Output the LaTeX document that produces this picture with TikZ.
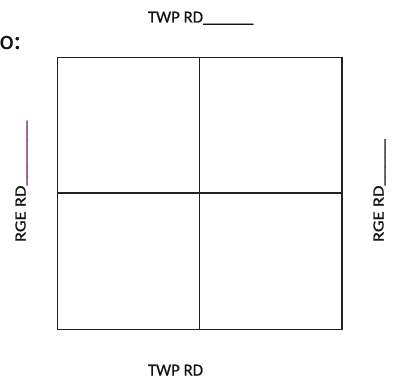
\documentclass[tikz,border=0pt]{standalone}
\usepackage{fontspec}
\setmainfont{Carlito}
\newfontfamily\lbfont{Carlito}[FakeBold=0.8]
\newfontfamily\lbfontlight{Carlito}[FakeBold=0.3]
\definecolor{ink}{RGB}{20,20,20}
\definecolor{gridline}{RGB}{35,35,35}
\definecolor{purpleline}{RGB}{95,25,105}
\begin{document}
\begin{tikzpicture}[x=1pt,y=-1pt,
  lbl/.style={inner sep=0pt,outer sep=0pt,text=ink,font=\lbfont\fontsize{16.8}{18}\selectfont},
  vlbl/.style={inner sep=0pt,outer sep=0pt,text=ink,font=\lbfont\fontsize{15.5}{18}\selectfont,rotate=90,anchor=base west},
  gridl/.style={draw=gridline,line width=1.2pt}]
\useasboundingbox (0,0) rectangle (393,379);
\clip (0,0) rectangle (393,379);
% corners
\coordinate (tl) at (57.5,57.5);
\coordinate (br) at (342,329.5);
\coordinate (tm) at (199.7,57.5);
\coordinate (bm) at (199.7,329.5);
\coordinate (lm) at (57.5,193);
\coordinate (rm) at (342,193);
\draw[gridl] (tl) rectangle (br);
\draw[gridl] (tm) -- (bm);
\draw[gridl] (lm) -- (rm);
% labels
\node[lbl,anchor=base west] (top) at (148,22.5) {TWP RD\_\_\_\_\_\_};
\node[lbl,anchor=base west] (bottom) at (148,375.5) {TWP RD};
\node[vlbl] (left) at (25.5,242) {\scalebox{1.2}[1]{RGE RD\textcolor{purpleline}{\_\_\_\_\_\_\_}}};
\node[vlbl] (right) at (383.5,242) {\scalebox{1.2}[1]{RGE RD\_\_\_\_\_}};
\node[inner sep=0pt,outer sep=0pt,anchor=base east,text=ink,font=\lbfontlight\fontsize{27}{30}\selectfont] (cut) at (21,49) {o:};
\end{tikzpicture}
\end{document}
